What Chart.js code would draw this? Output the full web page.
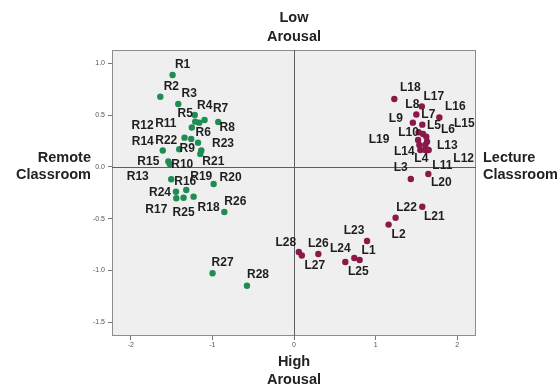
<!DOCTYPE html>
<html>
<head>
<meta charset="utf-8">
<script src="https://cdn.jsdelivr.net/npm/chart.js@4.4.1/dist/chart.umd.min.js"></script>
<style>
  html, body { margin: 0; padding: 0; background: #fff; }
  #wrap { width: 560px; height: 385px; position: relative; }
</style>
</head>
<body>
<div id="wrap"><canvas id="scatter"></canvas></div>
<script>
// Remote classroom (green) points
var remoteNames = ['R1','R2','R3','R4','R5','R6','R7','R8','R9','R10','R11','R12','R13','R14',
                   'R15','R16','R17','R18','R19','R20','R21','R22','R23','R24','R25','R26','R27','R28'];
var remoteX = [-1.488,-1.638,-1.418,-1.216,-1.210,-1.161,-1.096,-0.928,-1.259,-1.136,-1.252,-1.341,-1.522,-1.608,
               -1.540,-1.504,-1.442,-1.230,-1.320,-0.985,-1.148,-1.406,-1.176,-1.446,-1.353,-0.854,-0.998,-0.576];
var remoteY = [0.889,0.679,0.609,0.502,0.438,0.428,0.454,0.435,0.271,0.159,0.382,0.283,0.029,0.159,
               0.053,-0.119,-0.302,-0.287,-0.222,-0.164,0.126,0.171,0.235,-0.239,-0.297,-0.435,-1.027,-1.147];

// Lecture classroom (maroon) points
var lectureNames = ['L1','L2','L3','L4','L5','L6','L7','L8','L9','L10','L11','L12','L13','L14',
                    'L15','L16','L17','L18','L19','L20','L21','L22','L23','L24','L25','L26','L27','L28'];
var lectureX = [0.804,1.159,1.431,1.548,1.581,1.630,1.572,1.499,1.456,1.527,1.609,1.650,1.609,1.536,
                1.621,1.781,1.566,1.229,1.520,1.646,1.572,1.245,0.895,0.629,0.739,0.298,0.096,0.059];
var lectureY = [-0.899,-0.557,-0.116,0.164,0.319,0.244,0.409,0.507,0.428,0.335,0.164,0.164,0.213,0.213,
                0.293,0.478,0.585,0.657,0.261,-0.068,-0.384,-0.490,-0.715,-0.918,-0.879,-0.841,-0.855,-0.821];

var xTicks = [-2, -1, 0, 1, 2];
var yTicks = [1.0, 0.5, 0.0, -0.5, -1.0, -1.5];

// label placement (pixel offsets from each point, like SPSS's collision-avoided labels)
var remoteLabelShift = [[10,-10],[11,-10],[11,-10],[10,-9],[-10,-8],[4,10],[16,-11],[9,6],[-4,10],[-19,14],
                        [-26,-4],[-42,-12],[-32,13],[-20,-9],[-20,0],[14,2],[-20,11],[15,11],[15,-13],[17,-6],
                        [13,8],[-13,-9],[25,1],[-16,1],[0,15],[11,-10],[10,-11],[11,-11]];
var lectureLabelShift = [[9,-9],[10,10],[-10,-11],[1,9],[11,-8],[21,-12],[6,-10],[-4,-10],[-17,-4],[-10,0],
                         [17,16],[35,9],[22,1],[-15,7],[38,-13],[16,-11],[12,-10],[16,-11],[-39,0],[13,9],
                         [12,10],[11,-10],[-13,-10],[-5,-13],[4,14],[0,-10],[13,10],[-13,-9]];

function toPoints(xs, ys) {
    return xs.map(function(x, i) { return { x: x, y: ys[i] }; });
}

var FONT = '"Liberation Sans", Arial, sans-serif';

var framePlugin = {
    id: 'frame',
    beforeDatasetsDraw: function(chart) {
        var ctx = chart.ctx, a = chart.chartArea;
        var x0 = chart.scales.x.getPixelForValue(0);
        var y0 = chart.scales.y.getPixelForValue(0);
        ctx.save();
        ctx.fillStyle = '#efefef';
        ctx.fillRect(a.left, a.top, a.right - a.left, a.bottom - a.top);
        ctx.strokeStyle = '#8c8c8c';
        ctx.lineWidth = 1;
        ctx.strokeRect(a.left + 0.5, a.top + 0.5, a.right - a.left - 1, a.bottom - a.top - 1);
        // reference lines through the origin
        ctx.strokeStyle = '#5e5e5e';
        ctx.beginPath();
        ctx.moveTo(Math.round(x0) + 0.5, a.top);
        ctx.lineTo(Math.round(x0) + 0.5, a.bottom);
        ctx.moveTo(a.left, Math.round(y0) + 0.5);
        ctx.lineTo(a.right, Math.round(y0) + 0.5);
        ctx.stroke();
        ctx.restore();
    }
};

var labelPlugin = {
    id: 'pointNames',
    afterDatasetsDraw: function(chart) {
        var ctx = chart.ctx;
        ctx.save();
        ctx.font = 'bold 12px ' + FONT;
        ctx.fillStyle = '#1e1e1e';
        ctx.textAlign = 'center';
        ctx.textBaseline = 'middle';
        chart.data.datasets.forEach(function(ds, di) {
            var meta = chart.getDatasetMeta(di);
            meta.data.forEach(function(pt, i) {
                var s = ds.shifts[i];
                ctx.fillText(ds.names[i], pt.x + s[0], pt.y + s[1]);
            });
        });
        ctx.restore();
    }
};

var titlePlugin = {
    id: 'quadrantTitles',
    afterDraw: function(chart) {
        var ctx = chart.ctx, a = chart.chartArea;
        var cx = chart.scales.x.getPixelForValue(0);
        var cy = chart.scales.y.getPixelForValue(0);
        ctx.save();
        ctx.font = 'bold 14.5px ' + FONT;
        ctx.fillStyle = '#222';
        ctx.textBaseline = 'middle';
        ctx.textAlign = 'center';
        ctx.fillText('Low', cx, 18);
        ctx.fillText('Arousal', cx, 37);
        ctx.fillText('High', cx, 362);
        ctx.fillText('Arousal', cx, 380);
        ctx.textAlign = 'right';
        ctx.fillText('Remote', a.left - 21, cy - 8.5);
        ctx.fillText('Classroom', a.left - 21, cy + 8.5);
        ctx.textAlign = 'left';
        ctx.fillText('Lecture', a.right + 7, cy - 8.5);
        ctx.fillText('Classroom', a.right + 7, cy + 8.5);
        ctx.restore();
    }
};

var ctx = document.getElementById('scatter').getContext('2d');
var chart = new Chart(ctx, {
    type: 'scatter',
    data: {
        datasets: [{
            label: 'Remote Classroom',
            data: toPoints(remoteX, remoteY),
            names: remoteNames,
            shifts: remoteLabelShift,
            backgroundColor: '#1f8c52',
            borderWidth: 0,
            pointRadius: 3.2
        }, {
            label: 'Lecture Classroom',
            data: toPoints(lectureX, lectureY),
            names: lectureNames,
            shifts: lectureLabelShift,
            backgroundColor: '#8a1848',
            borderWidth: 0,
            pointRadius: 3.2
        }]
    },
    options: {
        responsive: true,
        maintainAspectRatio: false,
        animation: false,
        layout: {
            padding: { top: 50, right: 84, bottom: 0, left: 0 }
        },
        plugins: {
            legend: { display: false },
            tooltip: { enabled: false }
        },
        scales: {
            x: {
                type: 'linear',
                min: -2.23,
                max: 2.23,
                afterBuildTicks: function(scale) {
                    scale.ticks = xTicks.map(function(v) { return { value: v }; });
                },
                afterFit: function(scale) { scale.height = 49; },
                ticks: {
                    padding: 1,
                    color: '#555',
                    font: { size: 7, family: FONT },
                    maxRotation: 0,
                    callback: function(v) { return String(v); }
                },
                grid: {
                    drawOnChartArea: false,
                    drawTicks: true,
                    tickLength: 4,
                    tickColor: '#777'
                },
                border: { display: false }
            },
            y: {
                type: 'linear',
                min: -1.633,
                max: 1.13,
                afterBuildTicks: function(scale) {
                    scale.ticks = yTicks.map(function(v) { return { value: v }; });
                },
                afterFit: function(scale) { scale.width = 112; },
                ticks: {
                    padding: 3,
                    color: '#555',
                    font: { size: 7, family: FONT },
                    callback: function(v) { return Number(v).toFixed(1); }
                },
                grid: {
                    drawOnChartArea: false,
                    drawTicks: true,
                    tickLength: 4,
                    tickColor: '#777'
                },
                border: { display: false }
            }
        }
    },
    plugins: [framePlugin, labelPlugin, titlePlugin]
});
</script>
</body>
</html>
